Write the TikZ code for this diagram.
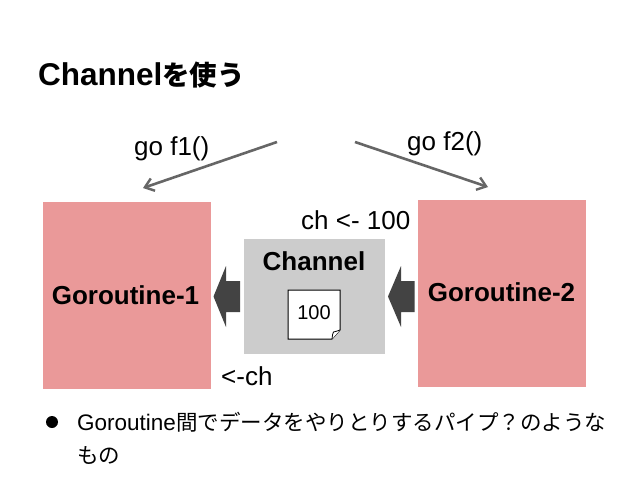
\documentclass[tikz,border=0pt]{standalone}
\usepackage{fontspec}
\setmainfont{Liberation Sans}
\newfontfamily\cjk{Noto Sans CJK JP}
\usetikzlibrary{arrows.meta}
\definecolor{gorored}{HTML}{EA9999}
\definecolor{changray}{HTML}{CCCCCC}
\definecolor{linegray}{HTML}{666666}
\definecolor{arrowgray}{HTML}{434343}
\tikzset{
  goroutine/.style={fill=gorored,draw=none,inner sep=0pt},
  boldlabel/.style={inner sep=0pt,anchor=base,font=\fontsize{26}{30}\selectfont\bfseries},
  chanbox/.style={fill=changray,draw=none,inner sep=0pt},
  plainlabel/.style={inner sep=0pt,anchor=base west,font=\fontsize{26}{30}\selectfont,text=black},
  golink/.style={draw=linegray,line width=2.6pt,-{Straight Barb[length=8.5pt,width=13pt,line width=2.4pt]}},
  bodytext/.style={inner sep=0pt,anchor=base west,font=\fontsize{22.5}{26}\selectfont},
}
\begin{document}
\begin{tikzpicture}[x=1pt,y=-1pt]
\useasboundingbox (0,0) rectangle (638,479);
\fill[white] (0,0) rectangle (638,479);
% title
\node[anchor=base west,inner sep=0pt,font=\fontsize{31.5}{36}\selectfont\bfseries] (title) at (38,85) {Channel{\cjk\fontsize{27.5}{36}\selectfont を使う}};
% boxes
\node[goroutine,minimum width=168pt,minimum height=187pt] (g1) at (127,295) {};
\node[goroutine,minimum width=168pt,minimum height=187pt] (g2) at (501.5,293) {};
\node[boldlabel] (g1t) at (125.5,304) {Goroutine-1};
\node[boldlabel] (g2t) at (501.5,301) {Goroutine-2};
\node[chanbox,minimum width=141pt,minimum height=115pt] (chan) at (314.5,296) {};
\node[boldlabel] (chant) at (314,270) {Channel};
% note
\draw[black,fill=white,line width=1pt,line join=miter] (288,290) -- (340,290) -- (340,330) -- (332,339) -- (288,339) -- cycle;
\draw[black,fill=white,line width=.8pt] (332,339) .. controls (332.5,336) and (332.5,333) .. (333.5,332) .. controls (335,331.5) and (338,331) .. (340,330);
\node[inner sep=0pt,anchor=base,font=\fontsize{20}{24}\selectfont] (val) at (314,319) {100};
% block arrows
\fill[arrowgray] (213.5,296.5) -- (226,266) -- (226,281) -- (240,281) -- (240,312) -- (226,312) -- (226,327) -- cycle;
\fill[arrowgray] (388,296.5) -- (401,266) -- (401,281) -- (414.5,281) -- (414.5,312) -- (401,312) -- (401,327) -- cycle;
% links
\coordinate (s1) at (277,142);
\coordinate (e1) at (143,188);
\coordinate (s2) at (355,142);
\coordinate (e2) at (488,187);
\draw[golink] (s1) -- (e1);
\draw[golink] (s2) -- (e2);
% labels
\node[plainlabel] (f1) at (134,155) {go f1()};
\node[plainlabel] (f2) at (407,150) {go f2()};
\node[plainlabel] (send) at (301,229) {ch <- 100};
\node[plainlabel] (recv) at (221,385) {<-ch};
% bullet
\fill[black] (52,422) circle (6pt);
\node[bodytext] (b1) at (77,430) {Goroutine{\cjk\fontsize{21.5}{26}\selectfont 間でデータをやりとりするパイプ？のような}};
\node[bodytext,font=\fontsize{21.5}{26}\selectfont\cjk] (b2) at (77,463) {もの};
\end{tikzpicture}
\end{document}
